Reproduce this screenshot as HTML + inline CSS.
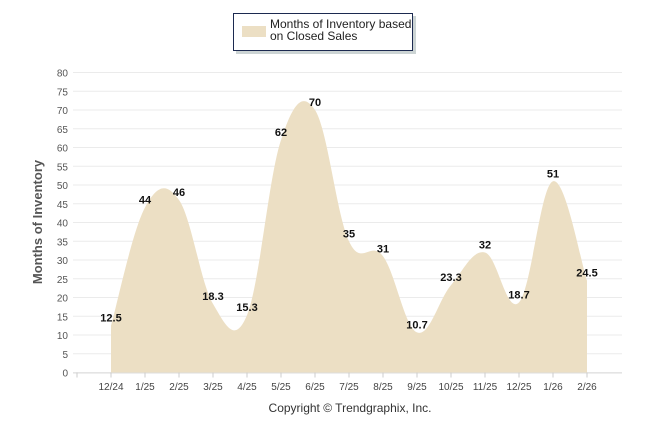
<!DOCTYPE html>
<html><head><meta charset="utf-8"><style>
body{margin:0;background:#fff;}
svg{display:block;font-family:"Liberation Sans",sans-serif;}
</style></head><body>
<svg width="646" height="434">
<g id="grid"></g>
<path id="area" fill="#ecdfc4"></path>
<g id="axes"></g>
<g id="labels"></g>
<text x="42" y="222" transform="rotate(-90 42 222)" text-anchor="middle" font-size="13" font-weight="bold" fill="#555">Months of Inventory</text>
<text x="350" y="412" text-anchor="middle" font-size="12" fill="#333">Copyright © Trendgraphix, Inc.</text>
<g>
<rect x="236" y="16" width="180" height="38" fill="#9aa" opacity="0.5"/>
<rect x="233.5" y="13.5" width="179" height="37" fill="#fff" stroke="#1c2a50" stroke-width="1"/>
<rect x="242" y="26" width="24" height="11" fill="#ecdfc4"/>
<text x="270" y="28" font-size="12" fill="#222">Months of Inventory based</text>
<text x="270" y="40" font-size="12" fill="#222">on Closed Sales</text>
</g>
</svg>
<script>
const categories=["12/24","1/25","2/25","3/25","4/25","5/25","6/25","7/25","8/25","9/25","10/25","11/25","12/25","1/26","2/26"];
const values=[12.5,44,46,18.3,15.3,62,70,35,31,10.7,23.3,32,18.7,51,24.5];
const valueLabels=["12.5","44","46","18.3","15.3","62","70","35","31","10.7","23.3","32","18.7","51","24.5"];
const yTicks=[0,5,10,15,20,25,30,35,40,45,50,55,60,65,70,75,80];
const NS="http://www.w3.org/2000/svg";
const x=i=>111+i*34;
const y=v=>372.5-v*3.75;
function mk(t,a,p){const e=document.createElementNS(NS,t);for(const k in a)e.setAttribute(k,a[k]);p.appendChild(e);return e;}
const grid=document.getElementById('grid'),axes=document.getElementById('axes'),labels=document.getElementById('labels');
yTicks.forEach(t=>{
 const l=mk('line',{x1:73,x2:622,y1:y(t),y2:y(t),stroke:'#ebebeb'},grid);
 
 
 const tx=mk('text',{x:68,y:y(t)+4,'text-anchor':'end','font-size':10,fill:'#555'},axes);
 tx.textContent=t;
 
 
});
mk('line',{x1:73,x2:622,y1:y(0)+0.5,y2:y(0)+0.5,stroke:'#ddd'},axes);
mk('line',{x1:77,x2:77,y1:y(0),y2:y(0)+5,stroke:'#ccc'},axes);
categories.forEach((c,i)=>{
 mk('line',{x1:x(i),x2:x(i),y1:y(0),y2:y(0)+5,stroke:'#ccc'},axes);
 const t=mk('text',{x:x(i),y:390,'text-anchor':'middle','font-size':10,fill:'#444'},axes);
 t.textContent=c;
 
 
});
const P=values.map((v,i)=>[x(i),y(v)]);
let d=`M${P[0][0]},${y(0)} L${P[0][0]},${P[0][1]}`;
for(let i=0;i<P.length-1;i++){
 const p0=P[i-1]||P[i],p1=P[i],p2=P[i+1],p3=P[i+2]||P[i+1];
 const t=1/6*1.1;
 d+=` C${p1[0]+(p2[0]-p0[0])*t},${p1[1]+(p2[1]-p0[1])*t} ${p2[0]-(p3[0]-p1[0])*t},${p2[1]-(p3[1]-p1[1])*t} ${p2[0]},${p2[1]}`;
}
d+=` L${P[P.length-1][0]},${y(0)} Z`;
document.getElementById('area').setAttribute('d',d);
values.forEach((v,i)=>{
 const t=mk('text',{x:x(i),y:y(v)-4,'text-anchor':'middle','font-size':11,'font-weight':'bold',fill:'#111'},labels);
 t.textContent=valueLabels[i];
 
 
});
</script>
</body></html>
